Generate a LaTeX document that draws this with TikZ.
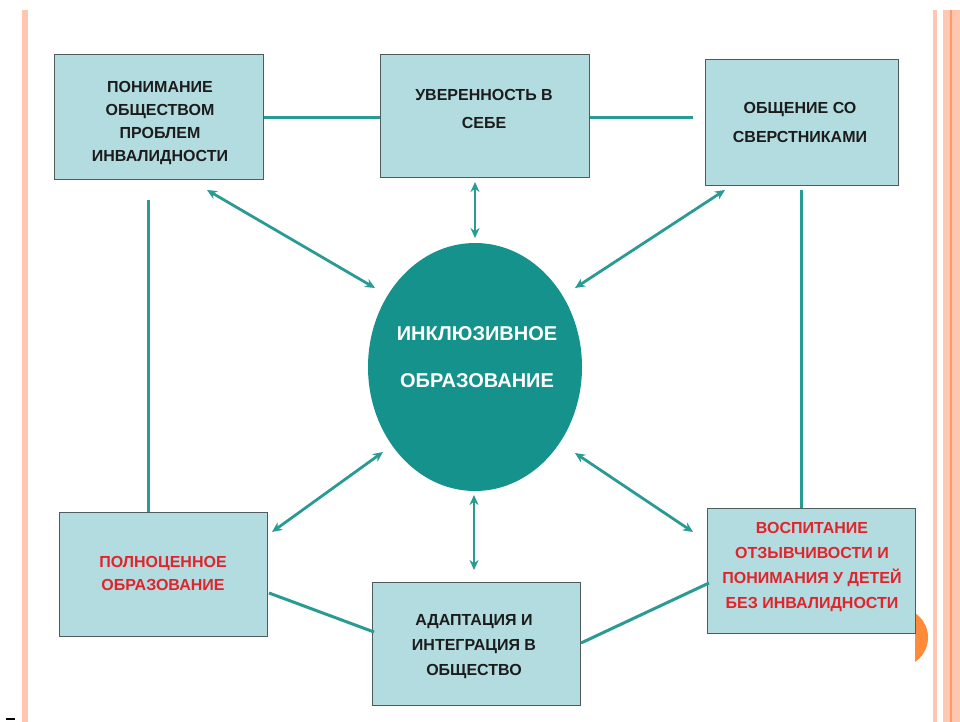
\documentclass[tikz,border=0pt]{standalone}
\usepackage{fontspec}
\setmainfont{Liberation Sans}
\usetikzlibrary{arrows.meta,shapes.geometric}
\definecolor{boxfill}{HTML}{B3DCE0}
\definecolor{boxborder}{HTML}{4E5C5C}
\definecolor{tealfill}{HTML}{16928D}
\definecolor{lineteal}{HTML}{2A9A95}
\definecolor{stripe}{HTML}{FFC6B2}
\definecolor{stripedark}{HTML}{FF9A66}
\definecolor{redtext}{HTML}{E2232B}
\definecolor{orangedot}{HTML}{FF8A3A}
\definecolor{darktext}{HTML}{1C1C1C}
\begin{document}
\begin{tikzpicture}[x=1pt,y=-1pt,
  box/.style={draw=boxborder, line width=1pt, fill=boxfill, inner sep=0pt},
  boxtext/.style={align=center, text=darktext, inner sep=0pt, font=\fontsize{16}{23}\selectfont\bfseries},
  redboxtext/.style={boxtext, text=redtext},
  ln/.style={draw=lineteal, line width=3pt},
  arr/.style={draw=lineteal, line width=2.8pt, {Stealth[length=10pt,width=9pt]}-{Stealth[length=10pt,width=9pt]}}
]
\useasboundingbox (0,0) rectangle (960,722);
\fill[white] (0,0) rectangle (960,722);
% border stripes
\fill[stripe] (22,10) rectangle (28,722);
\fill[stripe] (933,10) rectangle (937,722);
\fill[stripe] (943,10) rectangle (960,722);
\fill[stripedark] (950,10) rectangle (952,722);
\fill[black] (6,717.5) rectangle (15,720);
\begin{scope}
  \clip (915,600) rectangle (940,680);
  \fill[orangedot] (898.4,637.5) circle (29.6);
\end{scope}

% boxes
\node[box, minimum width=209pt, minimum height=125pt] (tl) at (158.5,117.5) {};
\node[box, minimum width=209pt, minimum height=123pt] (tm) at (484.5,116.5) {};
\node[box, minimum width=193pt, minimum height=125pt] (tr) at (801.5,122.5) {};
\node[box, minimum width=208pt, minimum height=124pt] (bl) at (163,574) {};
\node[box, minimum width=208pt, minimum height=123pt] (bm) at (476,643.5) {};
\node[box, minimum width=208pt, minimum height=125pt] (br) at (811,570.5) {};

% centre ellipse
\node[ellipse, fill=tealfill, minimum width=214pt, minimum height=248pt, inner sep=0pt] (circ) at (475,367) {};

% texts
\node[boxtext] (tlt) at (160,123) {ПОНИМАНИЕ\\ОБЩЕСТВОМ\\ПРОБЛЕМ\\ИНВАЛИДНОСТИ};
\node[boxtext, font=\fontsize{16}{28}\selectfont\bfseries] (tmt) at (484,109) {УВЕРЕННОСТЬ В\\СЕБЕ};
\node[boxtext, font=\fontsize{16}{29}\selectfont\bfseries] (trt) at (800,122) {ОБЩЕНИЕ СО\\СВЕРСТНИКАМИ};
\node[redboxtext] (blt) at (163,573.5) {ПОЛНОЦЕННОЕ\\ОБРАЗОВАНИЕ};
\node[boxtext, font=\fontsize{16}{25}\selectfont\bfseries] (bmt) at (474,647) {АДАПТАЦИЯ И\\ИНТЕГРАЦИЯ В\\ОБЩЕСТВО};
\node[redboxtext, font=\fontsize{16}{25}\selectfont\bfseries] (brt) at (812,567.5) {ВОСПИТАНИЕ\\ОТЗЫВЧИВОСТИ И\\ПОНИМАНИЯ У ДЕТЕЙ\\БЕЗ ИНВАЛИДНОСТИ};
\node[align=center, text=white, inner sep=0pt, font=\fontsize{20}{47}\selectfont\bfseries] (ct) at (477,357) {ИНКЛЮЗИВНОЕ\\ОБРАЗОВАНИЕ};

% connector end points
\coordinate (trL) at (693,118);
\coordinate (tlB) at (148,200);
\coordinate (trB) at (801,190);
\coordinate (blR) at (269,593);
\coordinate (bmL) at (374,632);
\coordinate (bmR) at (581,643);
\coordinate (brL) at (709,583);

\coordinate (tlA) at (207,190);  \coordinate (cA1) at (375,288);
\coordinate (tmA) at (475,182);  \coordinate (cA2) at (475,238);
\coordinate (trA) at (725,190);  \coordinate (cA3) at (575,288);
\coordinate (blA) at (272,532);  \coordinate (cA4) at (383,452);
\coordinate (bmA) at (474,570);  \coordinate (cA5) at (474,495);
\coordinate (brA) at (693,532);  \coordinate (cA6) at (575,453);

% plain connectors
\draw[ln] (tl.east |- 0,118) -- (tm.west |- 0,118);
\draw[ln] (tm.east |- trL) -- (trL);
\draw[ln] (tlB) -- (tlB |- bl.north);
\draw[ln] (trB) -- (trB |- br.north);
\draw[ln] (blR) -- (bmL);
\draw[ln] (bmR) -- (brL);

% arrows
\draw[arr] (tlA) -- (cA1);
\draw[arr] (tmA) -- (cA2);
\draw[arr] (trA) -- (cA3);
\draw[arr] (blA) -- (cA4);
\draw[arr] (bmA) -- (cA5);
\draw[arr] (brA) -- (cA6);
\end{tikzpicture}
\end{document}
